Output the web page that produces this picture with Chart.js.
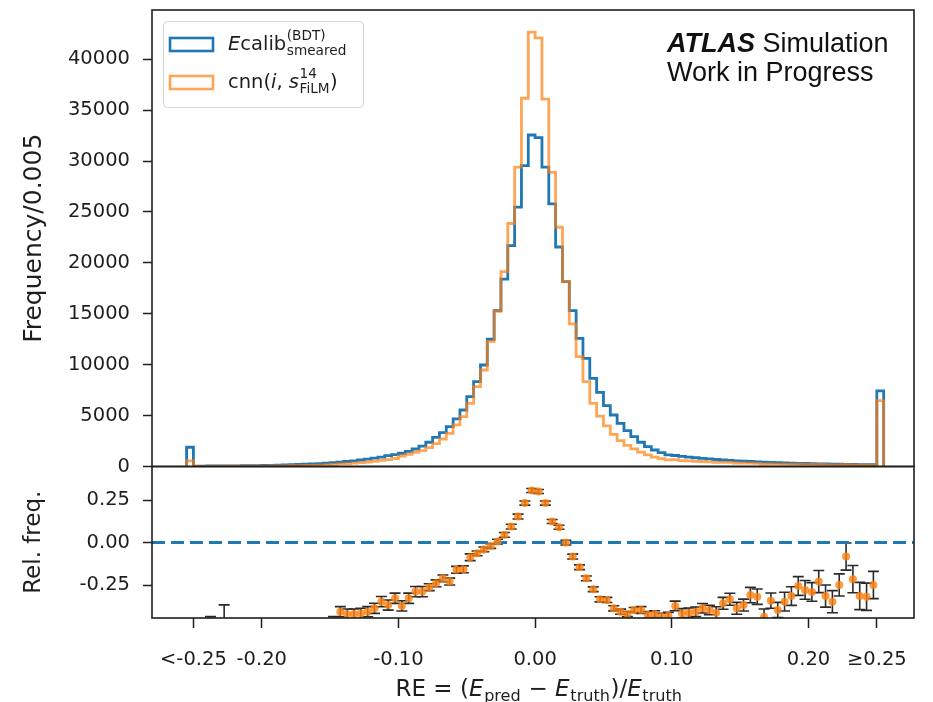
<!DOCTYPE html>
<html>
<head>
<meta charset="utf-8">
<script src="https://cdn.jsdelivr.net/npm/chart.js@4.4.1/dist/chart.umd.min.js"></script>
<style>
  html, body { margin: 0; padding: 0; background: #fff; }
  #wrap { position: relative; width: 933px; height: 702px; overflow: hidden; }
  canvas { position: absolute; left: 0; }
  #top { top: 0; }
  #bot { top: 456px; }
</style>
</head>
<body>
<div id="wrap">
  <canvas id="top" width="933" height="480"></canvas>
  <canvas id="bot" width="933" height="246"></canvas>
</div>
<script>
// ===============================
// Datos
// ===============================
// bins de 0.005 entre -0.25 y 0.25, más underflow / overflow
const binStart = -0.25;
const binWidth = 0.005;

const ecalibUnderflow = 1890;
const ecalibOverflow = 7420;
const ecalibCounts = [
  40, 45, 48, 55, 60, 62, 70, 78, 85, 95,
  105, 118, 132, 150, 170, 195, 220, 250, 285, 330,
  380, 430, 490, 560, 640, 720, 820, 930, 1060, 1170,
  1300, 1490, 1720, 2010, 2380, 2870, 3320, 3910, 4670, 5550,
  6860, 8330, 9970, 12500, 15310, 18400, 21700, 25470, 29550, 32560,
  32300, 29400, 25800, 21560, 18150, 15310, 12590, 10630, 8660, 7290,
  5980, 5060, 4240, 3520, 2930, 2380, 1950, 1620, 1360, 1150,
  1080, 1000, 930, 860, 800, 740, 690, 640, 600, 560,
  520, 490, 460, 430, 400, 380, 355, 335, 315, 295,
  280, 265, 250, 235, 225, 210, 200, 190, 180, 170
];

const cnnUnderflow = 560;
const cnnOverflow = 6470;
const cnnCounts = [
  18, 20, 21, 24, 26, 27, 30, 34, 37, 41,
  46, 52, 58, 66, 76, 88, 102, 118, 138, 162,
  198, 255, 284, 325, 374, 428, 503, 607, 671, 787,
  1030, 1200, 1390, 1560, 1860, 2250, 2700, 3250, 4080, 4890,
  6210, 7840, 9480, 12300, 15250, 19140, 23870, 29400, 36170, 42660,
  42100, 36080, 28900, 23500, 18150, 14000, 10790, 8330, 6210, 4950,
  4000, 3150, 2550, 2080, 1730, 1420, 1150, 930, 780, 660,
  680, 584, 547, 511, 491, 447, 406, 412, 400, 344,
  329, 339, 314, 243, 264, 230, 232, 230, 235, 213,
  199, 204, 172, 153, 169, 193, 157, 130, 123, 128
];

// panel inferior: (cnn - Ecalib) / Ecalib por bin
const relFreq = [
  -0.62, -0.58, -0.60, -0.65, -0.556, -0.60, -0.57, -0.63, -0.55, -0.58,
  -0.56, -0.60, -0.54, -0.57, -0.55, -0.53, -0.56, -0.52, -0.54, -0.50,
  -0.48, -0.406, -0.42, -0.42, -0.416, -0.406, -0.386, -0.347, -0.367, -0.327,
  -0.372, -0.327, -0.288, -0.288, -0.262, -0.239, -0.21, -0.229, -0.16, -0.157,
  -0.086, -0.063, -0.04, -0.02, 0.006, 0.045, 0.094, 0.153, 0.232, 0.306,
  0.30, 0.232, 0.124, 0.09, 0.0, -0.082, -0.145, -0.21, -0.274, -0.333,
  -0.337, -0.386, -0.406, -0.42, -0.396, -0.396, -0.425, -0.42, -0.435, -0.43,
  -0.372, -0.416, -0.412, -0.406, -0.386, -0.396, -0.412, -0.357, -0.333, -0.386,
  -0.367, -0.308, -0.318, -0.435, -0.341, -0.396, -0.347, -0.314, -0.255, -0.278,
  -0.29, -0.229, -0.314, -0.347, -0.249, -0.082, -0.215, -0.314, -0.318, -0.249
];
const relFreqErr = [
  0.09, 0.08, 0.165, 0.10, 0.19, 0.08, 0.07, 0.09, 0.06, 0.07,
  0.06, 0.06, 0.05, 0.05, 0.05, 0.045, 0.045, 0.04, 0.04, 0.04,
  0.045, 0.03, 0.03, 0.03, 0.03, 0.03, 0.03, 0.03, 0.03, 0.03,
  0.03, 0.03, 0.03, 0.03, 0.02, 0.02, 0.02, 0.02, 0.02, 0.02,
  0.02, 0.014, 0.014, 0.014, 0.014, 0.014, 0.014, 0.014, 0.012, 0.012,
  0.012, 0.012, 0.012, 0.012, 0.014, 0.014, 0.014, 0.014, 0.014, 0.015,
  0.015, 0.015, 0.015, 0.015, 0.015, 0.02, 0.02, 0.02, 0.02, 0.02,
  0.028, 0.028, 0.028, 0.028, 0.028, 0.028, 0.035, 0.035, 0.035, 0.035,
  0.035, 0.045, 0.045, 0.045, 0.045, 0.045, 0.055, 0.055, 0.055, 0.055,
  0.055, 0.065, 0.065, 0.065, 0.065, 0.08, 0.08, 0.08, 0.08, 0.08
];

// ejes
const xTickValues = [-0.25, -0.20, -0.10, 0.00, 0.10, 0.20, 0.25];
const xTickLabels = ['<-0.25', '-0.20', '-0.10', '0.00', '0.10', '0.20', '\u22650.25'];
const freqTickValues = [0, 5000, 10000, 15000, 20000, 25000, 30000, 35000, 40000];
const relTickValues = [-0.25, 0.00, 0.25];

const X_MIN = -0.2803, X_MAX = 0.2772;
const FREQ_MAX = 44840;
const REL_MIN = -0.443, REL_MAX = 0.447;

const BLUE = '#1f77b4';
const ORANGE = 'rgba(255,127,14,0.7)';
const INK = '#1e1e1e';
const FONT = '"DejaVu Sans", sans-serif';

Chart.defaults.font.family = FONT;
Chart.defaults.color = INK;
Chart.defaults.animation = false;

// ===============================
// Helpers
// ===============================
function histPoints(under, counts, over) {
  const pts = [{ x: binStart - binWidth, y: 0 }, { x: binStart - binWidth, y: under }];
  counts.forEach((c, k) => pts.push({ x: binStart + k * binWidth, y: c }));
  const end = binStart + counts.length * binWidth;
  pts.push({ x: end, y: over }, { x: end + binWidth, y: over }, { x: end + binWidth, y: 0 });
  return pts;
}

function binCenter(k) {
  return binStart + (k + 0.5) * binWidth;
}

// el eje no reserva espacio extra para las etiquetas de los extremos
function noLabelPadding(s) {
  s.paddingTop = 0;
  s.paddingBottom = 0;
  s.paddingLeft = 0;
  s.paddingRight = 0;
}

// texto con sub/superíndices tipo mathtext
function richWidth(ctx, parts, size) {
  let w = 0;
  parts.forEach(p => {
    if (p.t !== undefined) {
      ctx.font = (p.it ? 'italic ' : '') + size + 'px ' + FONT;
      w += ctx.measureText(p.t).width;
    } else {
      ctx.font = (size * 0.7) + 'px ' + FONT;
      const a = p.sup ? ctx.measureText(p.sup).width : 0;
      const b = p.sub ? ctx.measureText(p.sub).width : 0;
      w += Math.max(a, b) + size * 0.05;
    }
  });
  return w;
}

function drawRich(ctx, parts, x, y, size) {
  ctx.textBaseline = 'alphabetic';
  ctx.textAlign = 'left';
  parts.forEach(p => {
    if (p.t !== undefined) {
      ctx.font = (p.it ? 'italic ' : '') + size + 'px ' + FONT;
      ctx.fillText(p.t, x, y);
      x += ctx.measureText(p.t).width;
    } else {
      const s = size * 0.7;
      ctx.font = s + 'px ' + FONT;
      let w = 0;
      if (p.sup) {
        ctx.fillText(p.sup, x + size * 0.03, y - size * 0.52);
        w = Math.max(w, ctx.measureText(p.sup).width);
      }
      if (p.sub) {
        ctx.fillText(p.sub, x + size * 0.03, y + size * (p.sup ? 0.27 : 0.22));
        w = Math.max(w, ctx.measureText(p.sub).width);
      }
      x += w + size * 0.05;
    }
  });
  return x;
}

// ===============================
// Plugins
// ===============================
const framePlugin = {
  id: 'frame',
  afterDraw(chart) {
    const { ctx, chartArea: a } = chart;
    ctx.save();
    ctx.strokeStyle = INK;
    ctx.lineWidth = 1.6;
    ctx.strokeRect(a.left, a.top, a.right - a.left, a.bottom - a.top);
    ctx.restore();
  }
};

const legendPlugin = {
  id: 'mathLegend',
  afterDraw(chart) {
    const ctx = chart.ctx;
    ctx.save();
    ctx.fillStyle = 'rgba(255,255,255,0.85)';
    ctx.strokeStyle = '#d4d4d4';
    ctx.lineWidth = 1;
    ctx.beginPath();
    ctx.roundRect(163.5, 21.5, 200, 86, 4);
    ctx.fill();
    ctx.stroke();

    ctx.lineWidth = 2.6;
    ctx.strokeStyle = BLUE;
    ctx.strokeRect(170, 38, 43, 13);
    ctx.strokeStyle = ORANGE;
    ctx.strokeRect(170, 76, 43, 13);

    ctx.fillStyle = INK;
    drawRich(ctx, [{ t: 'E', it: true }, { t: 'calib' }, { sup: '(BDT)', sub: 'smeared' }], 228, 50, 19.5);
    drawRich(ctx, [{ t: 'cnn(' }, { t: 'i', it: true }, { t: ', ' }, { t: 's', it: true },
                   { sup: '14', sub: 'FiLM' }, { t: ')' }], 228, 88, 19.5);
    ctx.restore();
  }
};

const atlasPlugin = {
  id: 'atlasLabel',
  afterDraw(chart) {
    const ctx = chart.ctx;
    ctx.save();
    ctx.fillStyle = '#111';
    ctx.textBaseline = 'alphabetic';
    ctx.font = 'italic bold 27px "Liberation Sans", Arial, sans-serif';
    ctx.fillText('ATLAS', 667, 52);
    const w = ctx.measureText('ATLAS').width;
    ctx.font = '27px "Liberation Sans", Arial, sans-serif';
    ctx.fillText(' Simulation', 667 + w, 52);
    ctx.fillText('Work in Progress', 667, 81);
    ctx.restore();
  }
};

const errorBarPlugin = {
  id: 'errorBars',
  beforeDatasetsDraw(chart) {
    const { ctx, chartArea: a, scales: { x, y } } = chart;
    ctx.save();
    ctx.beginPath();
    ctx.rect(a.left, a.top, a.right - a.left, a.bottom - a.top);
    ctx.clip();
    ctx.strokeStyle = '#2a2a2a';
    ctx.lineWidth = 1.6;
    relFreq.forEach((r, k) => {
      const px = x.getPixelForValue(binCenter(k));
      const y1 = y.getPixelForValue(r + relFreqErr[k]);
      const y2 = y.getPixelForValue(r - relFreqErr[k]);
      ctx.beginPath();
      ctx.moveTo(px, y1); ctx.lineTo(px, y2);
      ctx.moveTo(px - 5.5, y1); ctx.lineTo(px + 5.5, y1);
      ctx.moveTo(px - 5.5, y2); ctx.lineTo(px + 5.5, y2);
      ctx.stroke();
    });
    ctx.restore();
  }
};

const xLabelPlugin = {
  id: 'xLabel',
  afterDraw(chart) {
    const { ctx, chartArea: a } = chart;
    const parts = [{ t: 'RE = (' }, { t: 'E', it: true }, { sub: 'pred' }, { t: ' \u2212 ' },
                   { t: 'E', it: true }, { sub: 'truth' }, { t: ')/' }, { t: 'E', it: true }, { sub: 'truth' }];
    ctx.save();
    ctx.fillStyle = INK;
    const w = richWidth(ctx, parts, 23);
    drawRich(ctx, parts, (a.left + a.right) / 2 - w / 2 + 6, 240, 23);
    ctx.restore();
  }
};

// ===============================
// Opciones comunes de ejes
// ===============================
const tickGrid = { drawOnChartArea: false, drawTicks: true, tickLength: 9, tickWidth: 1.5, tickColor: INK };

// ===============================
// Panel superior: histogramas
// ===============================
new Chart(document.getElementById('top'), {
  type: 'line',
  data: {
    datasets: [
      {
        label: 'cnn',
        data: histPoints(cnnUnderflow, cnnCounts, cnnOverflow),
        borderColor: ORANGE,
        borderWidth: 2.8,
        stepped: true,
        pointRadius: 0,
        fill: false,
        order: 1
      },
      {
        label: 'Ecalib',
        data: histPoints(ecalibUnderflow, ecalibCounts, ecalibOverflow),
        borderColor: BLUE,
        borderWidth: 2.8,
        stepped: true,
        pointRadius: 0,
        fill: false,
        order: 2
      }
    ]
  },
  options: {
    responsive: false,
    animation: false,
    layout: { padding: { left: 0, right: 19, top: 10, bottom: 13.5 } },
    plugins: { legend: { display: false }, tooltip: { enabled: false } },
    scales: {
      x: { type: 'linear', min: X_MIN, max: X_MAX, display: false },
      y: {
        min: 0,
        max: FREQ_MAX,
        afterFit: s => { s.width = 152; noLabelPadding(s); },
        afterBuildTicks: s => { s.ticks = freqTickValues.map(v => ({ value: v })); },
        ticks: { font: { size: 19.5 }, padding: 13, color: INK, callback: v => String(v) },
        grid: tickGrid,
        border: { display: false },
        title: { display: true, text: 'Frequency/0.005', font: { size: 25 }, color: INK, padding: { top: 19 } }
      }
    }
  },
  plugins: [framePlugin, legendPlugin, atlasPlugin]
});

// ===============================
// Panel inferior: frecuencia relativa
// ===============================
new Chart(document.getElementById('bot'), {
  type: 'scatter',
  data: {
    datasets: [
      {
        type: 'scatter',
        data: relFreq.map((r, k) => ({ x: binCenter(k), y: r })),
        backgroundColor: 'rgba(255,127,14,0.8)',
        borderWidth: 0,
        pointRadius: 4,
        order: 1
      },
      {
        type: 'line',
        data: [{ x: X_MIN, y: 0 }, { x: X_MAX, y: 0 }],
        borderColor: BLUE,
        borderWidth: 3,
        borderDash: [13, 6],
        pointRadius: 0,
        fill: false,
        order: 2
      }
    ]
  },
  options: {
    responsive: false,
    animation: false,
    layout: { padding: { left: 0, right: 19, top: 10.5, bottom: 0 } },
    plugins: { legend: { display: false }, tooltip: { enabled: false } },
    scales: {
      x: {
        type: 'linear',
        min: X_MIN,
        max: X_MAX,
        afterFit: s => { s.height = 84; noLabelPadding(s); },
        afterBuildTicks: s => { s.ticks = xTickValues.map(v => ({ value: v })); },
        ticks: { font: { size: 19.5 }, padding: 20, color: INK, maxRotation: 0, autoSkip: false,
                 callback: (v, i) => xTickLabels[i] },
        grid: Object.assign({}, tickGrid, { tickLength: 10 }),
        border: { display: false }
      },
      y: {
        min: REL_MIN,
        max: REL_MAX,
        afterFit: s => { s.width = 152; noLabelPadding(s); },
        afterBuildTicks: s => { s.ticks = relTickValues.map(v => ({ value: v })); },
        ticks: { font: { size: 19.5 }, padding: 13, color: INK, callback: v => v.toFixed(2) },
        grid: tickGrid,
        border: { display: false },
        title: { display: true, text: 'Rel. freq.', font: { size: 23 }, color: INK, padding: { top: 20 } }
      }
    }
  },
  plugins: [errorBarPlugin, framePlugin, xLabelPlugin]
});
</script>
</body>
</html>
